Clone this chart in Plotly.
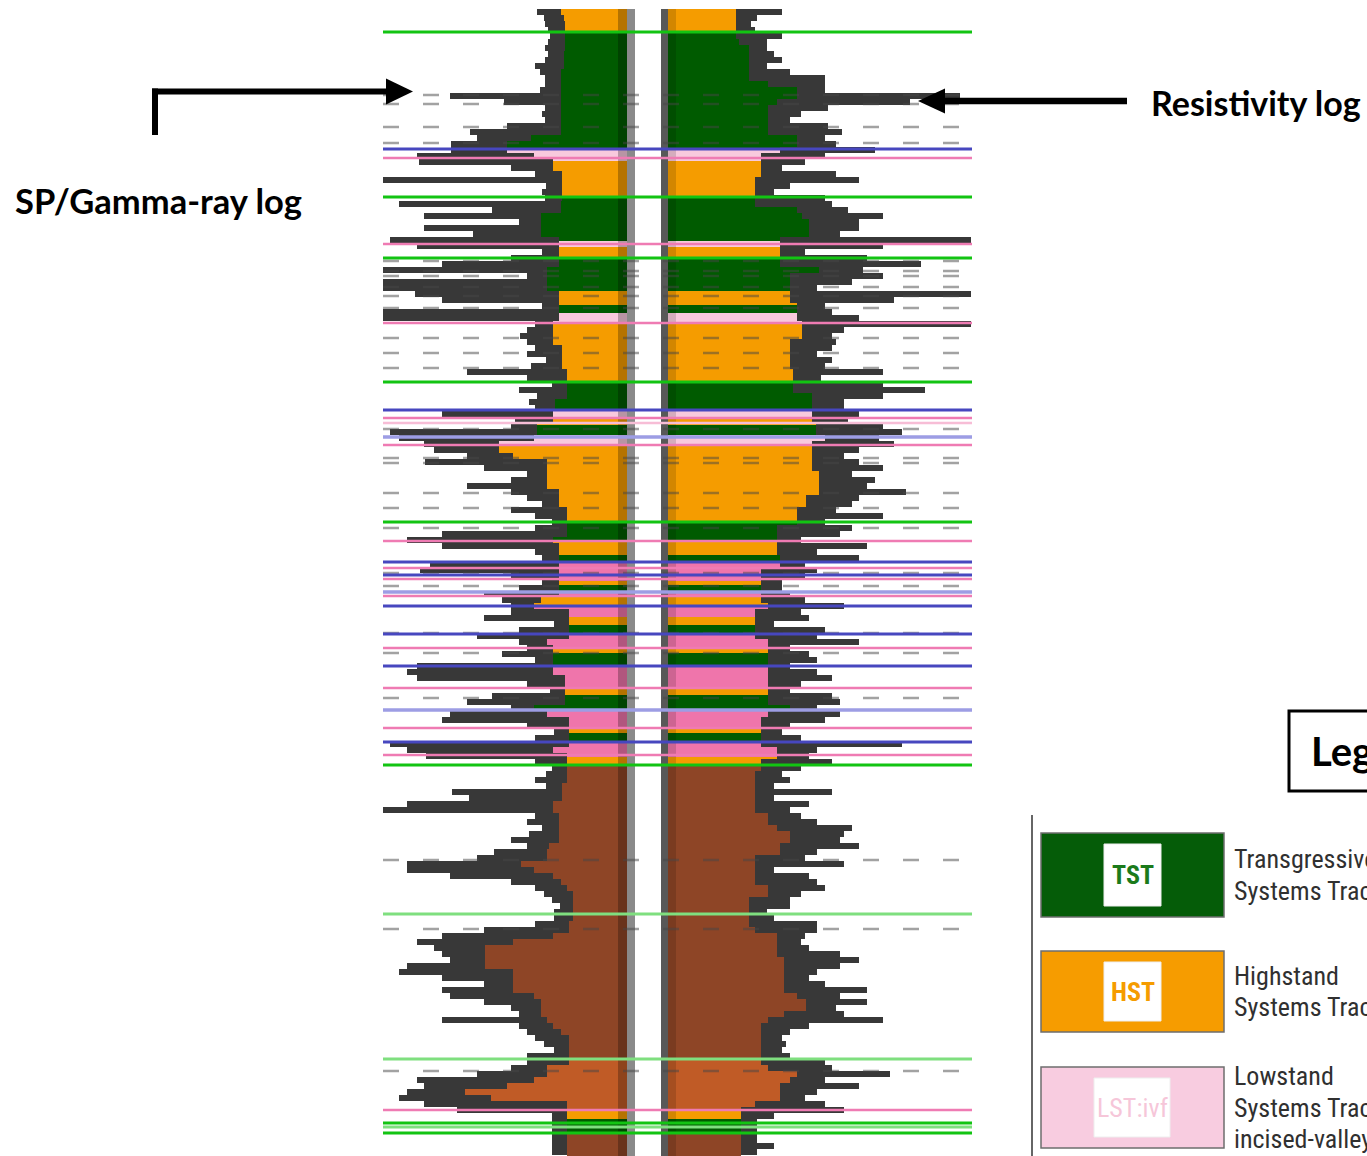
import numpy as np
import pandas as pd
import plotly.graph_objects as go

W, H = 1367, 1156

# ---------------------------------------------------------------- data
# log readings, one every 6 depth units (depth grows downwards)
depth = np.arange(12, 1153, 6)

# SP / gamma-ray deflection, measured leftwards from the track baseline
gr_defl = [
    90, 83, 82, 79, 77, 79, 82, 79, 82, 92,
    87, 82, 82, 87, 177, 123, 82, 85, 82, 120,
    157, 150, 176, 176, 210, 208, 116, 92, 245, 81,
    85, 82, 228, 135, 203, 108, 203, 154, 237, 210,
    85, 116, 185, 245, 100, 245, 245, 212, 185, 85,
    245, 245, 92, 100, 107, 100, 92, 100, 81, 96,
    160, 100, 75, 108, 90, 98, 92, 185, 112, 116,
    237, 228, 203, 193, 160, 202, 143, 100, 116, 160,
    116, 100, 85, 116, 92, 75, 92, 185, 220, 185,
    92, 85, 197, 207, 116, 85, 108, 143, 125, 116,
    116, 143, 73, 108, 150, 108, 100, 125, 92, 210,
    220, 210, 100, 77, 135, 160, 116, 177, 185, 100,
    73, 92, 237, 220, 201, 92, 75, 81, 92, 81,
    175, 158, 220, 245, 92, 100, 85, 98, 116, 100,
    133, 150, 220, 220, 177, 116, 92, 83, 75, 67,
    73, 73, 92, 143, 185, 210, 193, 185, 177, 220,
    228, 185, 143, 185, 177, 143, 116, 108, 185, 108,
    100, 92, 83, 73, 100, 100, 116, 150, 210, 203,
    220, 228, 203, 170, 75, 75, 75, 75, 75, 75,
    75,
]

# resistivity deflection, measured rightwards from the track baseline
res_defl = [
    114, 89, 83, 87, 114, 99, 99, 106, 114, 99,
    122, 157, 157, 157, 292, 242, 160, 133, 122, 160,
    174, 157, 168, 207, 157, 137, 114, 168, 191, 122,
    106, 157, 164, 180, 215, 191, 191, 172, 303, 215,
    137, 199, 253, 195, 215, 184, 149, 303, 226, 157,
    164, 191, 303, 176, 164, 168, 164, 149, 164, 157,
    215, 153, 215, 257, 215, 176, 176, 191, 180, 215,
    234, 211, 226, 191, 176, 191, 215, 184, 207, 199,
    238, 191, 184, 168, 215, 157, 184, 172, 133, 199,
    149, 191, 137, 149, 137, 114, 114, 122, 137, 176,
    133, 141, 106, 157, 149, 191, 122, 141, 149, 122,
    149, 164, 133, 122, 164, 172, 149, 172, 157, 122,
    114, 133, 234, 149, 141, 164, 133, 114, 122, 106,
    164, 106, 141, 122, 133, 149, 184, 176, 172, 191,
    149, 137, 176, 106, 141, 149, 157, 133, 122, 122,
    99, 106, 149, 149, 137, 133, 141, 172, 191, 172,
    149, 141, 157, 199, 172, 199, 168, 176, 215, 141,
    122, 114, 118, 114, 122, 157, 164, 222, 157, 191,
    149, 137, 157, 176, 106, 89, 89, 89, 89, 106,
    89,
]

# systems-tract intervals (top depth, base depth, tract)
tract_top = [9, 32, 149, 161, 197, 242, 247, 258, 292, 305,
             313, 323, 382, 410, 418, 425, 436, 446, 522, 541,
             556, 562, 582, 585, 592, 598, 606, 617, 625, 634,
             648, 653, 666, 690, 695, 710, 730, 733, 742, 758,
             765, 1059, 1110, 1120, 1133]
tract_base = tract_top[1:] + [1160]
tract_code = ["HST", "TST", "LST:ivf", "HST", "TST", "LST:ivf", "HST", "TST", "HST", "TST",
              "LST:ivf", "HST", "TST", "LST:ivf", "HST", "TST", "LST:ivf", "HST", "TST", "HST",
              "TST", "LST", "HST", "TST", "LST", "HST", "LST", "HST", "TST", "LST",
              "HST", "TST", "LST", "HST", "TST", "LST", "HST", "TST", "LST", "HST",
              "FSST", "LSW", "HST", "TST", "FSST"]

tract_color = {
    "HST": "#f59c00",
    "TST": "#005b00",
    "LST:ivf": "#f8c9dd",
    "LST": "#ef75ab",
    "FSST": "#8e4526",
    "LSW": "#c05b26",
}

# bounding surfaces picked on the logs
surf_green = [32, 197, 258, 382, 522, 765, 1123, 1133]
surf_green_faint = [914, 1059, 1127]
surf_blue = [149, 410, 562, 575, 606, 634, 666, 742]
surf_blue_faint = [437, 592, 710]
surf_pink = [158, 244, 323, 418, 445, 541, 568, 579, 596, 648, 688, 728, 755, 1110]
surf_pink_faint = [423]

# dashed depth markers
marker_depth = [95, 104, 127, 143, 261, 271, 276, 287, 296, 308, 338, 353, 368,
                429, 458, 463, 493, 508, 528, 573, 586, 633, 653, 698, 860, 929, 1071]

# ---------------------------------------------------------------- helpers
STEP = 6
FINE = 2
STRIP_L = 9      # shaded band next to each track baseline
STRIP_R = 8


def X(px):
    return px / W


def Y(py):
    return 1 - py / H


def tract_at(d):
    for t, b, c in zip(tract_top, tract_base, tract_code):
        if t <= d < b:
            return c
    return tract_code[-1]


def body_of(defl, ratio):
    # coloured body follows the inner envelope of the spiky curve
    s = pd.Series(defl, dtype=float)
    return (s.rolling(5, center=True, min_periods=1).min() * ratio).to_numpy()


fine_depth = np.arange(10, 1158, FINE)
fine_idx = np.clip(np.round((fine_depth - depth[0]) / STEP).astype(int), 0, len(depth) - 1)
fine_colors = [tract_color[tract_at(d)] for d in fine_depth]

fig = go.Figure()

for defl, ratio, xa, strip, shade in [
    (gr_defl, 0.80, "x", STRIP_L, "rgba(0,0,0,0.26)"),
    (res_defl, 0.82, "x2", STRIP_R, "rgba(0,0,0,0.14)"),
]:
    # raw log curve
    fig.add_trace(go.Bar(
        orientation="h", y=depth, x=defl, width=STEP + 0.6,
        marker=dict(color="#383838", line=dict(width=0)),
        xaxis=xa, yaxis="y", hoverinfo="skip", showlegend=False,
    ))
    body = body_of(defl, ratio)
    fig.add_trace(go.Bar(
        orientation="h", y=fine_depth, x=body[fine_idx], width=FINE + 0.4,
        marker=dict(color=fine_colors, line=dict(width=0)),
        xaxis=xa, yaxis="y", hoverinfo="skip", showlegend=False,
    ))
    top, bot = tract_top[0], tract_base[-1]
    fig.add_trace(go.Scatter(
        x=[0, strip, strip, 0, 0], y=[top, top, bot, bot, top],
        fill="toself", fillcolor=shade, mode="none",
        xaxis=xa, yaxis="y", hoverinfo="skip", showlegend=False,
    ))


def hlines(depths, color, width, dash="solid"):
    xs, ys = [], []
    for d in depths:
        xs += [0, 1, None]
        ys += [d, d, None]
    fig.add_trace(go.Scatter(
        x=xs, y=ys, mode="lines", line=dict(color=color, width=width, dash=dash),
        xaxis="x3", yaxis="y", hoverinfo="skip", showlegend=False,
    ))


hlines(marker_depth, "rgba(70,70,70,0.5)", 2.5, "16px,24px")
hlines(surf_green_faint, "#7fdf7f", 3)
hlines(surf_blue_faint, "#9d9de4", 3.5)
hlines(surf_pink_faint, "#f7bdd6", 2.5)
hlines(surf_pink, "#ef7bb3", 2.5)
hlines(surf_blue, "#4747bf", 3)
hlines(surf_green, "#12c412", 3)

hidden = dict(visible=False, showgrid=False, zeroline=False, fixedrange=True)

shapes = [
    # track baselines
    dict(type="rect", xref="paper", yref="y", x0=X(627), x1=X(635), y0=9, y1=1160,
         fillcolor="#8a8a8a", line=dict(width=0), layer="below"),
    dict(type="rect", xref="paper", yref="y", x0=X(661), x1=X(668), y0=9, y1=1160,
         fillcolor="#585858", line=dict(width=0), layer="below"),
    # call-out arrows
    dict(type="line", xref="paper", yref="paper", x0=X(155), x1=X(155), y0=Y(135), y1=Y(88.5),
         line=dict(color="black", width=6)),
    dict(type="line", xref="paper", yref="paper", x0=X(152), x1=X(392), y0=Y(91.5), y1=Y(91.5),
         line=dict(color="black", width=6)),
    dict(type="path", xref="paper", yref="paper",
         path=f"M {X(413)},{Y(91.5)} L {X(386)},{Y(78.5)} L {X(386)},{Y(104.5)} Z",
         fillcolor="black", line=dict(width=0)),
    dict(type="line", xref="paper", yref="paper", x0=X(1127), x1=X(940), y0=Y(101), y1=Y(101),
         line=dict(color="black", width=6.5)),
    dict(type="path", xref="paper", yref="paper",
         path=f"M {X(918)},{Y(101)} L {X(945)},{Y(88.5)} L {X(945)},{Y(113.5)} Z",
         fillcolor="black", line=dict(width=0)),
    # legend frame
    dict(type="rect", xref="paper", yref="paper", x0=X(1289), x1=X(1420), y0=Y(711), y1=Y(791),
         line=dict(color="black", width=3)),
    dict(type="line", xref="paper", yref="paper", x0=X(1032), x1=X(1032), y0=Y(815), y1=Y(1160),
         line=dict(color="#666666", width=2)),
]

annotations = [
    dict(text="<b>SP/Gamma-ray log</b>", x=X(13), y=Y(201), xanchor="left", yanchor="middle",
         font=dict(family="Lato, Open Sans, sans-serif", size=34.5, color="black")),
    dict(text="<b>Resistivity log</b>", x=X(1149), y=Y(103), xanchor="left", yanchor="middle",
         font=dict(family="Lato, Open Sans, sans-serif", size=34, color="black")),
    dict(text="<b>Legend</b>", x=X(1309), y=Y(751), xanchor="left", yanchor="middle",
         font=dict(family="Lato, Open Sans, sans-serif", size=40, color="black")),
]

narrow = "Roboto Condensed, DejaVu Sans Condensed, Liberation Sans Narrow, Arial Narrow, sans-serif"
legend_rows = [
    # code, swatch top, swatch bottom, inner box x0, x1, label colour, caption lines
    ("TST", 833, 917, 1104, 1161, "#1b7a1b", ["Transgressive", "Systems Tract"]),
    ("HST", 951, 1032, 1104, 1161, "#f59c00", ["Highstand", "Systems Tract"]),
    ("LST:ivf", 1067, 1148, 1094, 1170, "#f6c6d9", ["Lowstand", "Systems Tract", "incised-valley"]),
]
swatch_fill = {"TST": "#055c08", "HST": "#f69c00", "LST:ivf": "#f8cce0"}
for code, t, b, ix0, ix1, tcol, lines in legend_rows:
    shapes.append(dict(type="rect", xref="paper", yref="paper", x0=X(1041), x1=X(1224),
                       y0=Y(t), y1=Y(b), fillcolor=swatch_fill[code],
                       line=dict(color="#6e6e6e", width=1.5)))
    shapes.append(dict(type="rect", xref="paper", yref="paper", x0=X(ix0), x1=X(ix1),
                       y0=Y(t + 11), y1=Y(b - 11), fillcolor="white",
                       line=dict(color="#eeeeee", width=1)))
    annotations.append(dict(text=code, x=X((ix0 + ix1) / 2), y=Y((t + b) / 2), xanchor="center",
                            yanchor="middle",
                            font=dict(family=narrow, size=26, color=tcol,
                                      weight="bold" if code != "LST:ivf" else "normal")))
    n = len(lines)
    start = (t + b) / 2 - (n - 1) * 31.5 / 2
    for k, line in enumerate(lines):
        annotations.append(dict(text=line, x=X(1232), y=Y(start + k * 31.5), xanchor="left",
                                yanchor="middle", font=dict(family=narrow, size=26, color="#303030")))

for a in annotations:
    a.update(xref="paper", yref="paper", showarrow=False)

fig.update_layout(
    width=W, height=H, autosize=False,
    margin=dict(l=0, r=0, t=0, b=0),
    paper_bgcolor="white", plot_bgcolor="rgba(0,0,0,0)",
    barmode="overlay", bargap=0,
    xaxis=dict(domain=[X(383), X(627)], range=[244, 0], anchor="y", **hidden),
    xaxis2=dict(domain=[X(668), X(972)], range=[0, 304], anchor="y", **hidden),
    xaxis3=dict(domain=[X(383), X(972)], range=[0, 1], anchor="y", **hidden),
    yaxis=dict(domain=[0, 1], range=[H, 0], **hidden),
    shapes=shapes,
    annotations=annotations,
    showlegend=False,
)

fig.write_html("out.html")
